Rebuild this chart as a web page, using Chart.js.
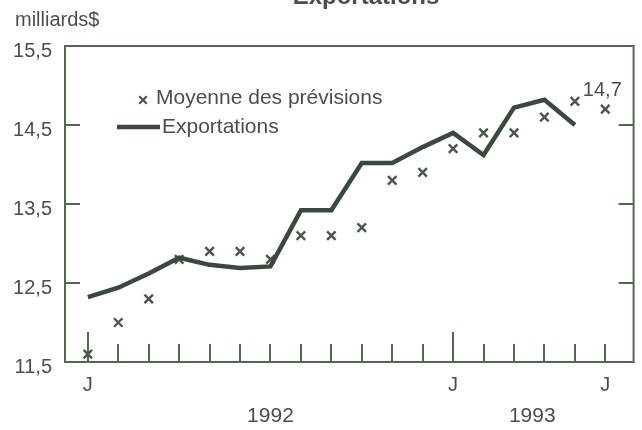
<!DOCTYPE html>
<html>
<head>
<meta charset="utf-8">
<script src="https://cdn.jsdelivr.net/npm/chart.js@4/dist/chart.umd.min.js"></script>
<style>
  html, body { margin: 0; padding: 0; background: #ffffff; }
  #wrap { width: 642px; height: 430px; position: relative; }
</style>
</head>
<body>
<div id="wrap"><canvas id="c" width="642" height="430"></canvas></div>
<script>
// ---- Data ----
const monthIndex = [0,1,2,3,4,5,6,7,8,9,10,11,12,13,14,15,16,17];
const monthTickLabels = {0: 'J', 12: 'J', 17: 'J'};
const yearTicks = [0, 12];              // tall ticks (January)
const yearLabels = ['1992', '1993'];
const yearLabelPos = [6, 14.6];
const exportations = [12.32, 12.44, 12.62, 12.82, 12.73, 12.69, 12.71, 13.42, 13.42, 14.02, 14.02, 14.22, 14.40, 14.12, 14.72, 14.82, 14.50];
const previsions   = [11.6, 12.0, 12.3, 12.8, 12.9, 12.9, 12.8, 13.1, 13.1, 13.2, 13.8, 13.9, 14.2, 14.4, 14.4, 14.6, 14.8, 14.7];
const yTickValues = [11.5, 12.5, 13.5, 14.5, 15.5];
const yInnerTicks = [12.5, 13.5, 14.5];
const lastLabel = '14,7';
const chartTitle = 'Exportations';
const unitLabel = 'milliards$';

const FONT = '"Liberation Sans", Arial, Helvetica, sans-serif';
const TEXT = '#4a4f4a';
const AXIS = '#566556';
const LINE = '#3c473d';
const MARK = '#4b574b';

const decor = {
  id: 'decor',
  beforeDraw(chart) {
    const ctx = chart.ctx;
    ctx.save();
    ctx.fillStyle = '#ffffff';
    ctx.fillRect(0, 0, chart.width, chart.height);
    ctx.restore();
  },
  beforeDatasetsDraw(chart) {
    const {ctx, chartArea: a, scales: {x, y}} = chart;
    ctx.save();
    ctx.strokeStyle = AXIS;
    ctx.lineWidth = 2;
    ctx.strokeRect(a.left, a.top, a.right - a.left, a.bottom - a.top);
    // x ticks pointing up
    monthIndex.forEach(m => {
      const px = Math.round(x.getPixelForValue(m));
      const len = yearTicks.includes(m) ? 30 : 18;
      ctx.beginPath();
      ctx.moveTo(px, a.bottom);
      ctx.lineTo(px, a.bottom - len);
      ctx.stroke();
    });
    // y inner ticks both sides
    yInnerTicks.forEach(v => {
      const py = Math.round(y.getPixelForValue(v));
      ctx.beginPath();
      ctx.moveTo(a.left, py); ctx.lineTo(a.left + 15, py);
      ctx.moveTo(a.right, py); ctx.lineTo(a.right - 15, py);
      ctx.stroke();
    });
    ctx.restore();
  },
  afterDraw(chart) {
    const {ctx, chartArea: a, scales: {x, y}} = chart;
    ctx.save();
    ctx.fillStyle = TEXT;
    // title (cut at top)
    ctx.font = 'bold 24px ' + FONT;
    ctx.textAlign = 'center';
    ctx.textBaseline = 'alphabetic';
    ctx.fillText(chartTitle, 366, 4);
    // unit label
    ctx.font = '20px ' + FONT;
    ctx.textAlign = 'left';
    ctx.fillText(unitLabel, 15, 26);
    // year labels
    ctx.font = '21px ' + FONT;
    ctx.textAlign = 'center';
    ctx.textBaseline = 'middle';
    yearLabels.forEach((t, i) => {
      ctx.fillText(t, x.getPixelForValue(yearLabelPos[i]), 416);
    });
    // last value annotation
    ctx.font = '20px ' + FONT;
    const lastIdx = previsions.length - 1;
    ctx.fillText(lastLabel, x.getPixelForValue(monthIndex[lastIdx]) - 3, y.getPixelForValue(previsions[lastIdx]) - 19);
    // legend
    const ds = chart.data.datasets;
    ctx.font = '21px ' + FONT;
    ctx.textAlign = 'left';
    ctx.textBaseline = 'middle';
    ctx.strokeStyle = MARK;
    ctx.lineWidth = 2.2;
    const mx = 143, my = 100, r = 3.8;
    ctx.beginPath();
    ctx.moveTo(mx - r, my - r); ctx.lineTo(mx + r, my + r);
    ctx.moveTo(mx + r, my - r); ctx.lineTo(mx - r, my + r);
    ctx.stroke();
    ctx.fillText(ds[1].label, 156, 98);
    ctx.strokeStyle = LINE;
    ctx.lineWidth = 4.5;
    ctx.beginPath();
    ctx.moveTo(117, 127); ctx.lineTo(160, 127);
    ctx.stroke();
    ctx.fillText(ds[0].label, 162, 127);
    ctx.restore();
  }
};

new Chart(document.getElementById('c'), {
  type: 'scatter',
  data: {
    datasets: [
      {
        label: 'Exportations',
        type: 'line',
        data: exportations.map((v, i) => ({x: monthIndex[i], y: v})),
        borderColor: LINE,
        borderWidth: 4.5,
        pointRadius: 0,
        tension: 0,
        fill: false,
        borderJoinStyle: 'miter'
      },
      {
        label: 'Moyenne des prévisions',
        data: previsions.map((v, i) => ({x: monthIndex[i], y: v})),
        showLine: false,
        pointStyle: 'crossRot',
        pointRadius: 6,
        pointBorderWidth: 2.4,
        borderColor: MARK,
        backgroundColor: MARK
      }
    ]
  },
  options: {
    responsive: false,
    animation: false,
    layout: { padding: { left: 0, right: 7, top: 46, bottom: 0 } },
    plugins: { legend: { display: false }, tooltip: { enabled: false }, title: { display: false } },
    scales: {
      x: {
        type: 'linear',
        min: -0.75,
        max: 17.93,
        grid: { display: false, drawTicks: false },
        border: { display: false },
        afterBuildTicks(scale) { scale.ticks = Object.keys(monthTickLabels).map(k => ({value: Number(k)})); },
        afterFit(scale) { scale.height = 68; },
        ticks: {
          autoSkip: false, maxRotation: 0, padding: 11,
          color: TEXT, font: { family: FONT, size: 20 },
          callback: v => monthTickLabels[v] || ''
        }
      },
      y: {
        min: 11.5,
        max: 15.5,
        grid: { display: false, drawTicks: false },
        border: { display: false },
        afterBuildTicks(scale) { scale.ticks = yTickValues.map(v => ({value: v})); },
        afterFit(scale) { scale.width = 65; },
        ticks: {
          padding: 13, labelOffset: 5,
          color: TEXT, font: { family: FONT, size: 20 },
          callback: v => v.toFixed(1).replace('.', ',')
        }
      }
    }
  },
  plugins: [decor]
});
</script>
</body>
</html>
